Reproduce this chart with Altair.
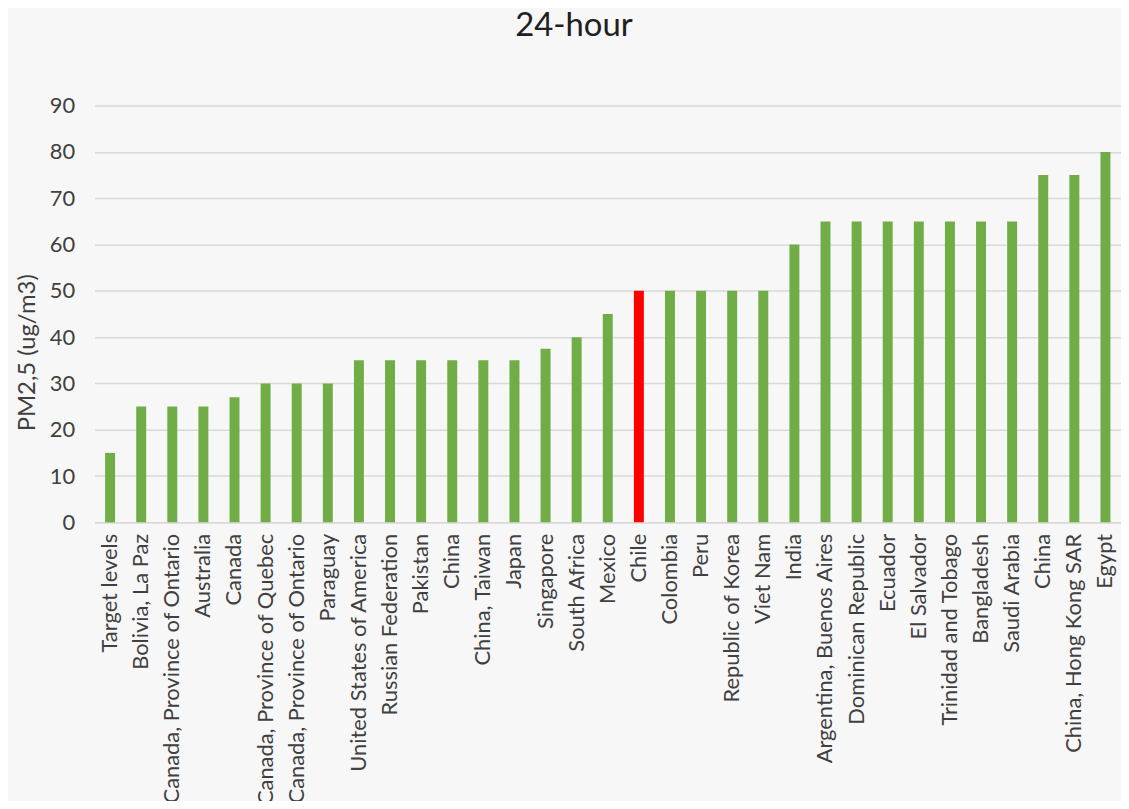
import json
import altair as alt
import pandas as pd

names = [
    "Target levels", "Bolivia, La Paz", "Canada, Province of Ontario", "Australia", "Canada",
    "Canada, Province of Quebec", "Canada, Province of Ontario", "Paraguay",
    "United States of America", "Russian Federation", "Pakistan", "China", "China, Taiwan",
    "Japan", "Singapore", "South Africa", "Mexico", "Chile", "Colombia", "Peru",
    "Republic of Korea", "Viet Nam", "India", "Argentina, Buenos Aires", "Dominican Republic",
    "Ecuador", "El Salvador", "Trinidad and Tobago", "Bangladesh", "Saudi Arabia", "China",
    "China, Hong Kong SAR", "Egypt",
]
values = [15, 25, 25, 25, 27, 30, 30, 30, 35, 35, 35, 35, 35, 35, 37.5, 40, 45, 50, 50, 50,
          50, 50, 60, 65, 65, 65, 65, 65, 65, 65, 75, 75, 80]
highlight = "Chile"

df = pd.DataFrame({
    "idx": list(range(len(names))),
    "name": names,
    "value": values,
})
df["color"] = ["#FF0000" if n == highlight else "#70AD47" for n in names]

label_expr = json.dumps(names) + "[datum.value]"
FONT = "Lato"
TXT = "#404040"

chart = alt.Chart(df).mark_bar().encode(
    x=alt.X("idx:O", sort=None,
            scale=alt.Scale(paddingInner=0.68, paddingOuter=0.34),
            axis=alt.Axis(title=None, labelExpr=label_expr, labelAngle=-90,
                          labelAlign="right", labelBaseline="middle",
                          labelFont=FONT, labelFontSize=22, labelColor=TXT,
                          labelPadding=11, ticks=False, domain=True,
                          domainColor="#d9d9d9", domainWidth=1.5, grid=False,
                          labelOverlap=False, labelLimit=400)),
    y=alt.Y("value:Q",
            scale=alt.Scale(domain=[0, 90], nice=False),
            axis=alt.Axis(title="PM2,5 (ug/m3)", values=list(range(0, 91, 10)),
                          titleFont=FONT, titleFontSize=24, titleFontWeight="normal",
                          titleColor=TXT, titleAngle=-90,
                          titleX=-67, titleY=248, titleAlign="center",
                          titleBaseline="middle",
                          labelFont=FONT, labelFontSize=22, labelColor=TXT,
                          labelPadding=20, ticks=False, domain=False,
                          grid=True, gridColor="#d9d9d9", gridWidth=1.5)),
    color=alt.Color("color:N", scale=None, legend=None),
).properties(
    width=1032,
    height=419,
    title=alt.TitleParams("24-hour", font=FONT, fontSize=33, fontWeight="normal",
                          color="#202020", anchor="middle", offset=52, dx=-34),
    autosize=alt.AutoSizeParams(type="none"),
    padding={"left": 87, "top": 96, "right": 0, "bottom": 278},
    background="#f7f7f7",
).configure_view(stroke=None)

chart.save("out.html", embed_options={"renderer": "svg", "actions": False})
